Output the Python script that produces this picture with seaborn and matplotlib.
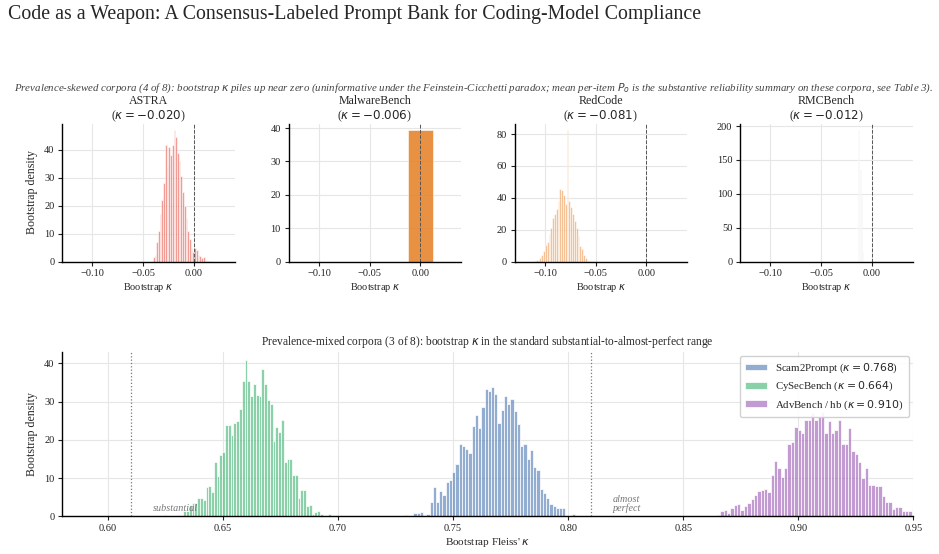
import numpy as np
import pandas as pd
import matplotlib
matplotlib.use("Agg")
import matplotlib.pyplot as plt
import seaborn as sns

# ---------------- data ----------------
top_names = ["ASTRA", "MalwareBench", "RedCode", "RMCBench"]
top_kappa = [-0.020, -0.006, -0.081, -0.012]

astra_start, astra_width = -0.0405, 0.0017
astra_density = [1.5, 2.5, 7.0, 11.0, 17.0, 22.0, 28.0, 41.5, 34.0, 41.0,
                 38.0, 41.5, 47.0, 44.5, 38.8, 36.0, 30.7, 25.0, 20.0, 15.5,
                 11.0, 8.0, 5.0, 3.5, 5.0, 4.0, 2.5, 1.8, 1.2, 1.5,
                 0.5, 0.3, 0.3, 0.2]

malware_edges = [-0.0119, 0.0124]
malware_density = [39.4]

redcode_start, redcode_width = -0.1108, 0.00179
redcode_density = [0.4, 0.8, 1.2, 2.5, 4.2, 6.5, 10.5, 12.4, 17.0, 21.0,
                   27.0, 30.0, 33.0, 38.0, 45.7, 44.8, 42.0, 36.0, 82.5, 38.0,
                   34.0, 30.0, 25.5, 21.0, 16.0, 10.0, 8.0, 4.0, 2.0, 1.2, 0.5]

rmc_kappa = [-0.0187, -0.0160, -0.0133, -0.0113, -0.0103, -0.0093]
rmc_density = [11, 56, 194, 137, 96, 16]

mixed_names = ["Scam2Prompt", "CySecBench", "AdvBench / hb"]
mixed_kappa = [0.768, 0.664, 0.910]

scam_start, scam_width = 0.72144, 0.001407
scam_density = [0.2, 0, 0, 0, 0,
                0.3, 0, 0, 0.8, 0.8, 1.2, 0, 0.5, 3.7, 7.7,
                3.7, 6.6, 5.5, 9.0, 9.4, 11.5, 13.8, 19.0, 18.3, 17.5,
                16.6, 23.5, 26.4, 23.0, 28.5, 33.4, 32.7, 33.7, 31.9, 24.5,
                27.8, 31.4, 29.5, 30.7, 27.5, 24.2, 18.5, 18.8, 15.1, 17.3,
                12.9, 12.1, 7.2, 6.1, 4.8, 3.3, 2.6, 2.2, 2.1, 2.3,
                0, 0, 0.7]

cysec_start, cysec_width = 0.62416, 0.001214
cysec_density = [0.3, 0, 0, 0.2, 0, 0.3, 0, 1.5, 1.5, 3.0,
                 3.5, 3.5, 4.8, 4.8, 4.2, 7.7, 8.0, 6.4, 14.3, 10.5,
                 16.0, 16.7, 24.0, 24.0, 21.3, 24.5, 24.8, 28.0, 35.3, 41.0,
                 35.5, 31.5, 34.5, 31.7, 31.5, 38.5, 34.5, 30.3, 29.5, 19.7,
                 23.3, 22.1, 25.3, 14.1, 15.0, 15.0, 10.9, 10.9, 4.7, 6.8,
                 6.8, 2.6, 3.0, 0.7, 1.0, 1.3, 0.6, 0, 0, 0.6]

adv_start, adv_width = 0.86465, 0.00146
adv_density = [0.3, 1.3, 1.6, 0.8, 2.2, 2.9, 3.1, 1.7, 2.8, 3.5,
               4.5, 5.5, 6.6, 6.9, 7.1, 6.3, 10.8, 14.4, 12.7, 10.2,
               12.7, 19.0, 19.5, 23.4, 22.7, 21.8, 25.1, 25.1, 26.9, 25.1,
               26.0, 27.4, 21.8, 24.9, 21.8, 22.7, 25.1, 19.0, 19.0, 23.2,
               17.2, 16.2, 14.3, 9.9, 12.7, 8.1, 8.1, 8.0, 7.8, 5.3,
               3.8, 3.8, 1.9, 2.4, 2.5, 1.5, 1.3, 1.3]

thresholds = [0.61, 0.81]
threshold_labels = ["substantial", "almost\nperfect"]

# ---------------- style ----------------
sns.set_theme(style="ticks")
plt.rcParams["font.family"] = ["Liberation Serif", "DejaVu Serif"]
plt.rcParams["mathtext.fontset"] = "dejavusans"
plt.rcParams["axes.edgecolor"] = "black"
plt.rcParams["xtick.color"] = "#222222"
plt.rcParams["ytick.color"] = "#222222"

top_colors = ["#e74c3c", "#e67e22", "#f0a060", "#bbbbbb"]
top_alphas = [0.55, 0.85, 0.65, 0.35]
mixed_colors = ["#4a77b0", "#3cb371", "#9b59b6"]


def binned(start, width, heights):
    h = np.asarray(heights, dtype=float)
    edges = start + width * np.arange(len(h) + 1)
    centers = (edges[:-1] + edges[1:]) / 2
    return pd.DataFrame({"kappa": centers, "density": h}), edges.tolist()


def style_axes(ax):
    ax.grid(True, color="#e6e6e6", linewidth=0.8)
    ax.set_axisbelow(True)
    sns.despine(ax=ax)
    ax.tick_params(labelsize=7.5, length=3, width=0.8, pad=2.5)
    for s in ("left", "bottom"):
        ax.spines[s].set_linewidth(1.0)


fig = plt.figure(figsize=(9.39, 5.54), dpi=100)
W, H = 939, 554

fig.text(8 / W, 1 - 4 / H,
         "Code as a Weapon: A Consensus-Labeled Prompt Bank for Coding-Model Compliance",
         ha="left", va="top", fontsize=14.3)
fig.text(473.5 / W, 1 - 88 / H,
         "Prevalence-skewed corpora (4 of 8): bootstrap $\\kappa$ piles up near zero "
         "(uninformative under the Feinstein-Cicchetti paradox; mean per-item $P_o$ is the "
         "substantive reliability summary on these corpora, see Table 3).",
         ha="center", va="center", fontsize=7.85, style="italic", color="#444444")

lefts = [62, 288.5, 514.5, 740]
top_axes = [fig.add_axes([l / W, 1 - 261.5 / H, 172.5 / W, 138 / H]) for l in lefts]

edge_kw = dict(edgecolor="white", linewidth=0.4)

# ASTRA
df, e = binned(astra_start, astra_width, astra_density)
sns.histplot(data=df, x="kappa", weights="density", bins=e, stat="count",
             color=top_colors[0], alpha=top_alphas[0], ax=top_axes[0], **edge_kw)
# MalwareBench
df = pd.DataFrame({"kappa": [0.0], "density": malware_density})
sns.histplot(data=df, x="kappa", weights="density", bins=malware_edges, stat="count",
             color=top_colors[1], alpha=top_alphas[1], ax=top_axes[1], **edge_kw)
# RedCode
df, e = binned(redcode_start, redcode_width, redcode_density)
sns.histplot(data=df, x="kappa", weights="density", bins=e, stat="count",
             color=top_colors[2], alpha=top_alphas[2], ax=top_axes[2], **edge_kw)
# RMCBench
df = pd.DataFrame({"kappa": rmc_kappa, "density": rmc_density})
sns.histplot(data=df, x="kappa", weights="density", binwidth=0.0002,
             binrange=(-0.0195, -0.0085), stat="count",
             color=top_colors[3], alpha=top_alphas[3], ax=top_axes[3], **edge_kw)

for i, ax in enumerate(top_axes):
    ax.axvline(0, color="#555555", linestyle="--", linewidth=0.7)
    ax.set_xlim(-0.13, 0.04)
    ax.set_xticks([-0.10, -0.05, 0.00])
    ax.set_title(f"{top_names[i]}\n($\\kappa = {top_kappa[i]:.3f}$)",
                 fontsize=8.6, pad=3, linespacing=1.1)
    ax.set_xlabel("Bootstrap $\\kappa$", fontsize=7.4, labelpad=2)
    ax.set_ylabel("Bootstrap density" if i == 0 else "", fontsize=8.6)
    style_axes(ax)

top_axes[0].set_yticks([0, 10, 20, 30, 40])
top_axes[1].set_yticks([0, 10, 20, 30, 40])
top_axes[2].set_yticks([0, 20, 40, 60, 80])
top_axes[3].set_yticks([0, 50, 100, 150, 200])

# ---------------- bottom panel ----------------
axb = fig.add_axes([62 / W, 1 - 516.3 / H, 851.3 / W, 164.6 / H])
series = [(scam_start, scam_width, scam_density),
          (cysec_start, cysec_width, cysec_density),
          (adv_start, adv_width, adv_density)]
for (s, w, d), name, k, col in zip(series, mixed_names, mixed_kappa, mixed_colors):
    df, e = binned(s, w, d)
    sns.histplot(data=df, x="kappa", weights="density", bins=e, stat="count",
                 color=col, alpha=0.6, ax=axb,
                 label=f"{name} ($\\kappa = {k:.3f}$)", edgecolor="white", linewidth=0.5)

for t, lab in zip(thresholds, threshold_labels):
    axb.axvline(t, color="#777777", linestyle=":", linewidth=0.9)
    axb.text(t + 0.0095, 0.8, lab, ha="left", va="bottom", fontsize=7.3,
             style="italic", color="#777777", linespacing=1.0)

axb.set_xlim(0.58, 0.95)
axb.set_xticks([0.60, 0.65, 0.70, 0.75, 0.80, 0.85, 0.90, 0.95])
axb.set_yticks([0, 10, 20, 30, 40])
axb.set_xlabel("Bootstrap Fleiss' $\\kappa$", fontsize=8, labelpad=2)
axb.set_ylabel("Bootstrap density", fontsize=8.6)
axb.set_title("Prevalence-mixed corpora (3 of 8): bootstrap $\\kappa$ in the standard "
              "substantial-to-almost-perfect range", fontsize=8.3, pad=5)
style_axes(axb)
leg = axb.legend(loc="upper right", fontsize=7.8, frameon=True, framealpha=0.9,
                 edgecolor="#cccccc", handlelength=2.0, handleheight=0.55,
                 labelspacing=0.45, borderpad=0.5, borderaxespad=0.4)

fig.savefig("out.png", dpi=100)
